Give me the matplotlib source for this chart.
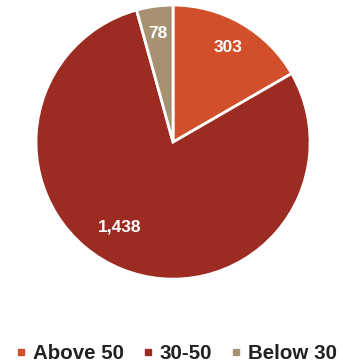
import matplotlib.pyplot as plt
from matplotlib.lines import Line2D
import numpy as np

plt.rcParams['font.family'] = ['Liberation Sans', 'DejaVu Sans']

categories = ["Above 50", "30-50", "Below 30"]
counts = [303, 1438, 78]
colors = ["#D14F2B", "#9C2B22", "#A79171"]

fig = plt.figure(figsize=(3.43, 3.63), dpi=100)
ax = fig.add_axes([0.105, 0.231, 0.799, 0.755])

wedges, texts = ax.pie(
    counts,
    colors=colors,
    startangle=90,
    counterclock=False,
    labels=[f"{c:,}" for c in counts],
    labeldistance=0.8,
    wedgeprops=dict(edgecolor="white", linewidth=2),
    textprops=dict(color="white", fontsize=12.5, fontweight="bold",
                   ha="center", va="center"),
)
# the big slice label sits a bit further round and closer in
ang = np.deg2rad(-122)
texts[1].set_position((0.73 * np.cos(ang), 0.73 * np.sin(ang)))

ax.set_xlim(-1, 1)
ax.set_ylim(-1, 1)
ax.set_aspect("equal")
ax.axis("off")

handles = [Line2D([], [], marker="s", linestyle="", markersize=5,
                  markerfacecolor=c, markeredgecolor=c) for c in colors]
fig.legend(handles, categories, loc="center", bbox_to_anchor=(0.515, 0.027),
           ncol=3, frameon=False, handlelength=0.45, handletextpad=0.35,
           columnspacing=0.95, prop=dict(size=14.8, weight="bold"),
           labelcolor="#222222")

fig.savefig("out.png", dpi=100)
